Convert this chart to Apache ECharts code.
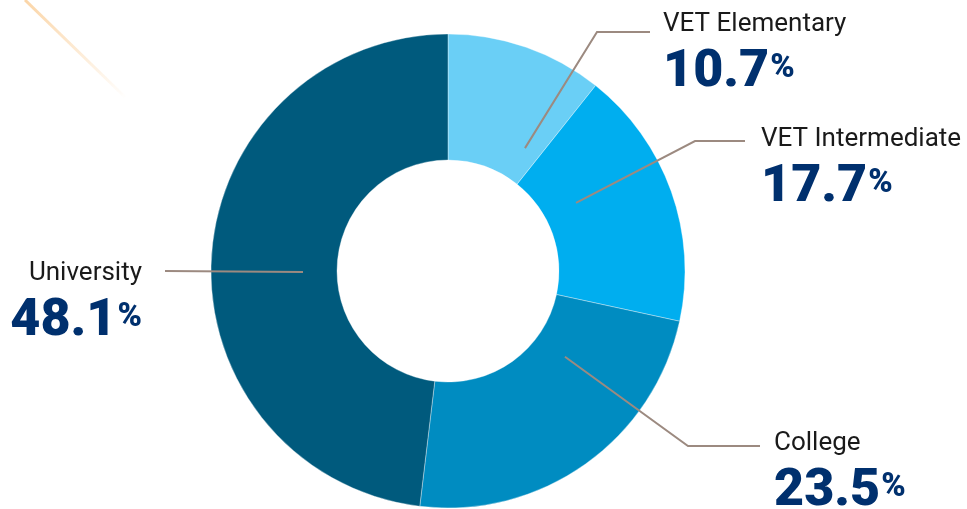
<!DOCTYPE html>
<html>
<head>
<meta charset="utf-8">
<script src="https://cdn.jsdelivr.net/npm/echarts@6/dist/echarts.min.js"></script>
<style>
  html, body { margin: 0; padding: 0; background: #ffffff; }
  #chart { width: 967px; height: 509px; }
</style>
</head>
<body>
<div id="chart"></div>
<script>
// data
var categories = ["VET Elementary", "VET Intermediate", "College", "University"];
var shares = [10.7, 17.7, 23.5, 48.1];
var colors = ["#6acff6", "#00aeef", "#008cc1", "#005a7d"];

// label placement: elbow of the leader line, end of the line, text anchor
var labelPos = [
  { elbow: [597, 32], end: [650, 32], x: 663, y: 6, align: "left", turn: 12.8 },
  { elbow: [695, 141], end: [745, 141], x: 761, y: 121, align: "left", turn: -8.4 },
  { elbow: [688, 446], end: [760, 446], x: 774, y: 425, align: "left", turn: -18.3 },
  { elbow: [165, 271], end: [165, 271], x: 142, y: 255, align: "right", turn: -3.78 }
];

var cx = 448, cy = 271;
var total = shares.reduce(function (a, b) { return a + b; }, 0);
var midAngles = [];
var acc = 0;
shares.forEach(function (v) {
  midAngles.push((acc + v / 2) / total * 360);
  acc += v;
});

var pieData = categories.map(function (c, i) {
  return { name: c, value: shares[i], itemStyle: { color: colors[i] } };
});

var myChart = echarts.init(document.getElementById("chart"));
myChart.setOption({
  animation: false,
  graphic: [
    {
      type: "line",
      shape: { x1: 25, y1: 0, x2: 125, y2: 97 },
      style: {
        lineWidth: 3,
        stroke: {
          type: "linear", x: 0, y: 0, x2: 1, y2: 1,
          colorStops: [
            { offset: 0, color: "rgba(250,205,150,0.85)" },
            { offset: 1, color: "rgba(250,205,150,0)" }
          ]
        }
      }
    }
  ],
  series: [
    {
      // the ring itself
      type: "pie",
      center: [cx, cy],
      radius: [111, 237],
      startAngle: 90,
      clockwise: true,
      silent: true,
      itemStyle: { borderColor: "rgba(255,255,255,0.6)", borderWidth: 0.6 },
      label: { show: false },
      labelLine: { show: false },
      data: pieData
    },
    {
      // same data, transparent, only for labels and leader lines on top
      type: "pie",
      z: 5,
      center: [cx, cy],
      radius: [111, 237],
      startAngle: 90,
      clockwise: true,
      silent: true,
      itemStyle: { color: "rgba(0,0,0,0)" },
      label: {
        show: true,
        formatter: function (p) {
          return "{n|" + p.name + "}\n{v|" + p.value + "}{p|%}";
        },
        rich: {
          n: { fontFamily: "Roboto", fontSize: 26, color: "#1a1a1a", lineHeight: 36 },
          v: { fontFamily: "Roboto", fontWeight: 900, fontSize: 52, color: "#00306e", lineHeight: 62, verticalAlign: "middle" },
          p: { fontFamily: "Roboto", fontWeight: 900, fontSize: 33, color: "#00306e", lineHeight: 62, verticalAlign: "middle", padding: [0, 0, 8, 1] }
        }
      },
      labelLine: {
        show: true,
        lineStyle: { color: "#9c8a80", width: 2 }
      },
      labelLayout: function (params) {
        var i = params.dataIndex;
        var l = labelPos[i];
        var a = (midAngles[i] + l.turn) * Math.PI / 180;
        var r = 145;
        var start = [cx + r * Math.sin(a), cy - r * Math.cos(a)];
        return {
          x: l.x,
          y: l.y,
          align: l.align,
          verticalAlign: "top",
          labelLinePoints: [start, l.elbow, l.end]
        };
      },
      data: categories.map(function (c, i) {
        return { name: c, value: shares[i] };
      })
    }
  ]
});
</script>
</body>
</html>
